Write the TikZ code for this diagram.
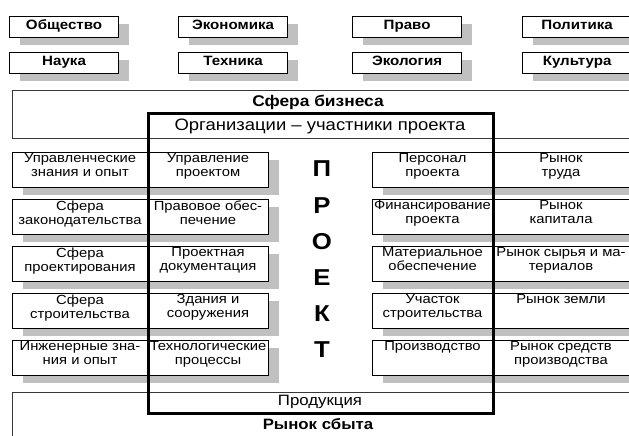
\documentclass[tikz,border=0pt]{standalone}
\usepackage{fontspec}
\setmainfont{Liberation Sans}[FakeStretch=1.12]
\usetikzlibrary{shadows}
\definecolor{shade}{RGB}{192,192,192}
\definecolor{rule}{RGB}{55,55,55}

\begin{document}
\begin{tikzpicture}[x=1pt,y=-1pt,
    shd/.style={drop shadow={shadow xshift=10pt, shadow yshift=-7pt, fill=shade, opacity=1}},
    fbox/.style={draw, line width=1.2pt, fill=white, shd, minimum width=109pt, minimum height=21pt,
      inner sep=0pt, text height=9pt, text depth=4pt, anchor=north west, font=\bfseries\fontsize{13.5}{14}\selectfont},
    cell/.style={draw, line width=1pt, fill=white, shd, minimum height=35pt, inner sep=0pt, anchor=north west},
    ctext/.style={anchor=north, inner sep=1.5pt, align=center, font=\fontsize{13.2}{14}\selectfont},
    band/.style={draw=rule, line width=1.2pt, inner sep=0pt, anchor=north west},
    lbl/.style={font=\fontsize{15}{16}\selectfont},
    letter/.style={font=\bfseries\fontsize{23}{24}\selectfont}
]
\useasboundingbox (0,0) rectangle (629,436);
\clip (0,0) rectangle (629,436);

% factors of the environment
\foreach \n/\x/\y/\t in {f1/9/16/Общество, f2/178/16/Экономика, f3/352/16/Право, f4/522/16/Политика,
                         f5/9/52/Наука, f6/178/52/Техника, f7/352/52/Экология, f8/522/52/Культура} {
  \node[fbox] (\n) at (\x,\y) {\t};
}

% business sphere and market
\node[band, minimum width=640pt, minimum height=48pt] (biz) at (12,90) {};
\node[lbl, font=\bfseries\fontsize{15.5}{16}\selectfont] (bizt) at (318,102) {Сфера бизнеса};
\node[band, minimum width=640pt, minimum height=60pt] (mkt) at (12,392) {};
\node[lbl] (prod) at (320,402) {Продукция};
\node[lbl, font=\bfseries\fontsize{15}{16}\selectfont] (mktt) at (318,424) {Рынок сбыта};

% left rows
\foreach \r/\ta/\tb in {0/{Управленческие\\знания и опыт}/{Управление\\проектом},
                        1/{Сфера\\законодательства}/{Правовое обес-\\печение},
                        2/{Сфера\\проектирования}/{Проектная\\документация},
                        3/{Сфера\\строительства}/{Здания и\\сооружения},
                        4/{Инженерные зна-\\ния и опыт}/{Технологические\\процессы}} {
  \pgfmathsetmacro{\yt}{152+47*\r}
  \node[cell, minimum width=135pt] (la\r) at (12,\yt) {};
  \node[ctext] at (la\r.north) {\ta};
  \node[cell, minimum width=121pt] (lb\r) at (147,\yt) {};
  \node[ctext] at (lb\r.north) {\tb};
}

% right rows
\foreach \r/\ta/\tb in {0/{Персонал\\проекта}/{Рынок\\труда},
                        1/{Финансирование\\проекта}/{Рынок\\капитала},
                        2/{Материальное\\обеспечение}/{Рынок сырья и ма-\\териалов},
                        3/{Участок\\строительства}/{Рынок земли},
                        4/{Производство}/{Рынок средств\\производства}} {
  \pgfmathsetmacro{\yt}{152+47*\r}
  \node[cell, minimum width=120pt] (ra\r) at (372,\yt) {};
  \node[ctext] at (ra\r.north) {\ta};
  \node[cell, minimum width=160pt] (rb\r) at (492,\yt) {};
  \node[ctext, xshift=69pt] at (rb\r.north west) {\tb};
}

% the project frame
\node[draw, line width=3pt, minimum width=345pt, minimum height=300pt, inner sep=0pt, anchor=north west] (proj) at (147,112) {};
\node[lbl, font=\fontsize{16.5}{17}\selectfont] (org) at (320,126) {Организации – участники проекта};
\foreach \l [count=\i from 0] in {П,Р,О,Е,К,Т} {
  \node[letter] (p\i) at (322,169+36.2*\i) {\l};
}
\end{tikzpicture}
\end{document}
